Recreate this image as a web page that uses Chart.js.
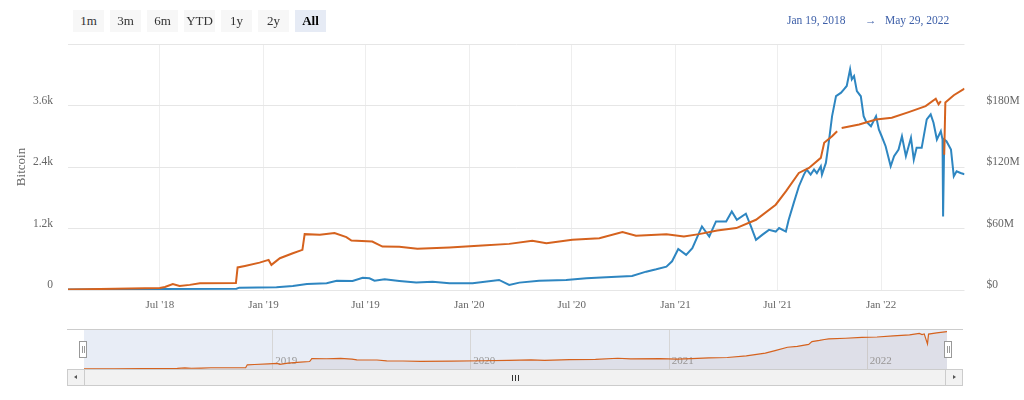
<!DOCTYPE html>
<html>
<head>
<meta charset="utf-8">
<script src="https://cdn.jsdelivr.net/npm/chart.js@4.4.1/dist/chart.umd.min.js"></script>
<style>
body { margin: 0; background: #fff; font-family: "Liberation Serif", serif; }
#wrap { position: relative; width: 1024px; height: 400px; overflow: hidden; }
canvas { position: absolute; left: 0; }
.btn { position: absolute; top: 10px; width: 31px; height: 22px; line-height: 22px; text-align: center; background: #f7f7f7; color: #333; font-size: 13px; }
.btn.on { background: #e6ebf5; font-weight: bold; color: #000; }
.date { position: absolute; top: 14px; font-size: 11.5px; color: #3d5fa8; }
#scroll { position: absolute; left: 67px; top: 369px; width: 894px; height: 15px; background: #f2f2f2; border: 1px solid #cccccc; }
.sbtn { position: absolute; top: 0; width: 16px; height: 15px; background: #f2f2f2; }
.grip { position: absolute; top: 5px; width: 1px; height: 6px; background: #333; }
.handle { position: absolute; top: 341px; width: 6px; height: 15px; background: #fff; border: 1px solid #999; }
.handle i { position: absolute; top: 4px; width: 1px; height: 7px; background: #999; }
</style>
</head>
<body>
<div id="wrap">
  <canvas id="main" width="1024" height="320" style="top:0"></canvas>
  <canvas id="nav" width="1024" height="80" style="top:320px"></canvas>
  <div id="buttons"></div>
  <div class="date" style="left:787px">Jan 19, 2018</div>
  <div class="date" style="left:865px">&rarr;</div>
  <div class="date" style="left:885px">May 29, 2022</div>
  <div id="scroll">
    <div class="sbtn" style="left:0;border-right:1px solid #ccc"><div style="position:absolute;left:6px;top:5px;border-top:2.5px solid transparent;border-bottom:2.5px solid transparent;border-right:3px solid #555"></div></div>
    <div class="sbtn" style="right:0;border-left:1px solid #ccc"><div style="position:absolute;left:7px;top:5px;border-top:2.5px solid transparent;border-bottom:2.5px solid transparent;border-left:3px solid #555"></div></div>
    <div class="grip" style="left:444px"></div>
    <div class="grip" style="left:447px"></div>
    <div class="grip" style="left:450px"></div>
  </div>
  <div class="handle" style="left:79px"><i style="left:1.5px"></i><i style="left:3.5px"></i></div>
  <div class="handle" style="left:944px"><i style="left:1.5px"></i><i style="left:3.5px"></i></div>
</div>
<script>
// range buttons
const rangeButtons = ['1m', '3m', '6m', 'YTD', '1y', '2y', 'All'];

// bitcoin held (left axis)
const btcDates = ['2018-01-19','2018-03-17','2018-05-09','2018-07-01','2018-07-10','2018-07-24','2018-08-05','2018-08-23','2018-09-10','2018-11-13',
  '2018-11-16','2018-11-29','2018-12-25','2019-01-10','2019-01-15','2019-01-30','2019-02-22','2019-03-11','2019-03-15','2019-04-11',
  '2019-05-07','2019-05-28','2019-06-06','2019-07-13','2019-07-31','2019-08-30','2019-10-01','2019-11-27','2020-01-24','2020-03-12',
  '2020-04-22','2020-05-17','2020-07-02','2020-08-19','2020-09-29','2020-10-23','2020-12-16','2021-01-16','2021-02-12','2021-03-16',
  '2021-04-19','2021-05-24','2021-06-28','2021-07-16','2021-08-08','2021-08-26','2021-09-16','2021-09-22','2021-10-06','2021-10-15',
  '2021-10-19','2021-10-23','2021-11-23','2021-12-23','2022-01-20','2022-02-19','2022-03-21','2022-04-08','2022-04-13','2022-04-17',
  '2022-04-20','2022-04-23','2022-04-25','2022-05-10','2022-05-29'];
const btcValues = [10, 20, 30, 40, 60, 115, 80, 100, 130, 135,
  440, 470, 534, 587, 490, 620, 718, 783, 1090, 1077,
  1110, 1032, 965, 946, 848, 842, 803, 829, 868, 900,
  959, 914, 979, 1012, 1129, 1057, 1090, 1044, 1090, 1161,
  1208, 1370, 1664, 1925, 2284, 2382, 2578, 2872, 3001, 3099,
  null, 3160, 3230, 3328, 3361, 3471, 3588, 3733, 3622, 3686,
  null, 2640, 3660, 3800, 3929];

// value in USD millions (right axis)
const usdDates = ['2018-01-19','2018-07-01','2018-11-14','2018-11-19','2019-01-24','2019-02-22','2019-03-19','2019-04-23','2019-05-11','2019-06-08',
  '2019-06-26','2019-07-08','2019-07-17','2019-08-04','2019-08-30','2019-09-29','2019-10-28','2019-11-27','2020-01-07','2020-02-23',
  '2020-03-12','2020-03-30','2020-05-04','2020-06-21','2020-07-27','2020-08-31','2020-10-16','2020-11-10','2020-11-28','2020-12-16',
  '2020-12-26','2021-01-06','2021-01-20','2021-01-31','2021-02-17','2021-03-02','2021-03-14','2021-04-01','2021-04-11','2021-04-20',
  '2021-05-06','2021-05-15','2021-05-24','2021-06-04','2021-06-16','2021-06-28','2021-07-04','2021-07-16','2021-07-21','2021-07-30',
  '2021-08-08','2021-08-17','2021-08-22','2021-08-29','2021-09-04','2021-09-09','2021-09-16','2021-09-18','2021-09-25','2021-09-30',
  '2021-10-06','2021-10-13','2021-10-22','2021-10-27','2021-11-01','2021-11-07','2021-11-10','2021-11-14','2021-11-19','2021-11-26',
  '2021-12-01','2021-12-05','2021-12-14','2021-12-23','2021-12-28','2022-01-02','2022-01-09','2022-01-18','2022-01-24','2022-02-01',
  '2022-02-07','2022-02-14','2022-02-23','2022-02-28','2022-03-05','2022-03-14','2022-03-23','2022-03-30','2022-04-04','2022-04-10',
  '2022-04-17','2022-04-20','2022-04-21','2022-04-23','2022-04-27','2022-05-05','2022-05-10','2022-05-15','2022-05-22','2022-05-29'];
const usdValues = [0.5, 1.0, 1.3, 2.3, 2.6, 3.9, 5.9, 6.5, 9.1, 8.8,
  12, 11.4, 9.1, 10.5, 8.8, 7.2, 8.1, 6.5, 6.5, 9.8,
  4.9, 7.2, 9.1, 9.8, 11.4, 12.4, 13.7, 17.9, 20.2, 22.8,
  28, 40, 34.3, 40.8, 62, 52.2, 66.9, 66.9, 76.6, 68.5,
  74.4, 62, 48.9, 53.8, 58.7, 57, 60.4, 57, 68.5, 85,
  101, 112.6, 117.5, 112.6, 117.5, 114, 120.7, 112.6, 124, 143.6,
  169.6, 189.2, 192.5, 195.8, 199, 215.3, 205.5, 208.8, 194, 189,
  169.6, 164.7, 159.8, 169.6, 156.6, 150, 140.3, 120.7, 130.5, 137,
  150, 130.5, 148.5, 127.2, 138.7, 138.7, 166.4, 171.3, 163.2, 146.8,
  155, 146.8, 71.7, 146.8, 145.2, 137, 110.9, 115.8, 114.2, 113];

const xTickDates = ['2018-07-01','2019-01-01','2019-07-01','2020-01-01','2020-07-01','2021-01-01','2021-07-01','2022-01-01'];
const xTickLabels = ["Jul '18", "Jan '19", "Jul '19", "Jan '20", "Jul '20", "Jan '21", "Jul '21", "Jan '22"];
const leftTicks = [0, 1200, 2400, 3600, 4800];
const leftTickLabels = ['0', '1.2k', '2.4k', '3.6k', ''];
const rightTicks = [0, 60, 120, 180, 240];
const rightTickLabels = ['$0', '$60M', '$120M', '$180M', ''];
const navYears = ['2019-01-01','2020-01-01','2021-01-01','2022-01-01'];
const navYearLabels = ['2019', '2020', '2021', '2022'];

const orange = '#d5621e';
const blue = '#2e86c1';
const serif = '"Liberation Serif", serif';
const DAY = 86400000;

function ts(s)
{
    const p = s.split('-');
    return Date.UTC(+p[0], +p[1] - 1, +p[2]);
}
const xMin = ts('2018-01-19');
const xMax = ts('2022-05-29');

const btcPoints = btcDates.map((d, i) => ({x: ts(d), y: btcValues[i]}));
const usdPoints = usdDates.map((d, i) => ({x: ts(d), y: usdValues[i]}));

rangeButtons.forEach((b, i) => {
    const el = document.createElement('div');
    el.className = 'btn' + (b === 'All' ? ' on' : '');
    el.style.left = (73 + i * 37) + 'px';
    el.textContent = b;
    document.getElementById('buttons').appendChild(el);
});

new Chart(document.getElementById('main'), {
    type: 'line',
    data: {
        datasets: [{
            label: 'Bitcoin',
            data: btcPoints,
            yAxisID: 'yL',
            borderColor: orange,
            borderWidth: 2,
            pointRadius: 0,
            tension: 0,
            spanGaps: false
        }, {
            label: 'USD',
            data: usdPoints,
            yAxisID: 'yR',
            borderColor: blue,
            borderWidth: 2,
            pointRadius: 0,
            tension: 0
        }]
    },
    options: {
        responsive: false,
        animation: false,
        devicePixelRatio: 1,
        layout: { padding: { top: 44, left: 0, right: 0, bottom: 0 } },
        plugins: { legend: { display: false }, tooltip: { enabled: false } },
        scales: {
            x: {
                type: 'linear',
                min: xMin,
                max: xMax,
                afterBuildTicks: ax => { ax.ticks = xTickDates.map(d => ({value: ts(d)})); },
                afterFit: ax => { ax.height = 30; },
                ticks: {
                    callback: (v, i) => xTickLabels[i],
                    color: '#666',
                    font: { family: serif, size: 11 },
                    padding: 9,
                    maxRotation: 0,
                    autoSkip: false
                },
                grid: { color: '#eeeeee', drawTicks: false },
                border: { display: false }
            },
            yL: {
                position: 'left',
                min: 0,
                max: 4800,
                afterBuildTicks: ax => { ax.ticks = leftTicks.map(v => ({value: v})); },
                afterFit: ax => { ax.width = 68; },
                ticks: {
                    callback: (v, i) => leftTickLabels[i],
                    color: '#666',
                    font: { family: serif, size: 11.5 },
                    padding: 15,
                    labelOffset: -5
                },
                title: {
                    display: true,
                    text: 'Bitcoin',
                    color: '#666',
                    font: { family: serif, size: 13 },
                    padding: { top: 14, bottom: 0 }
                },
                grid: { color: '#e6e6e6', drawTicks: false },
                border: { display: false }
            },
            yR: {
                position: 'right',
                min: 0,
                max: 240,
                afterBuildTicks: ax => { ax.ticks = rightTicks.map(v => ({value: v})); },
                afterFit: ax => { ax.width = 59.5; },
                ticks: {
                    callback: (v, i) => rightTickLabels[i],
                    color: '#666',
                    font: { family: serif, size: 11.5 },
                    padding: 14,
                    labelOffset: -5
                },
                grid: { display: false },
                border: { display: false }
            }
        }
    }
});

// navigator decorations: mask, outline, year lines and labels
const navDecor = {
    id: 'navDecor',
    beforeDatasetsDraw(chart) {
        const ctx = chart.ctx;
        const a = chart.chartArea;
        const xs = chart.scales.x;
        ctx.save();
        ctx.fillStyle = '#e8edf6';
        ctx.fillRect(a.left, a.top, a.right - a.left, a.bottom - a.top);
        ctx.strokeStyle = '#d6d6d6';
        ctx.lineWidth = 1;
        navYears.forEach(d => {
            const px = Math.round(xs.getPixelForValue(ts(d))) + 0.5;
            ctx.beginPath();
            ctx.moveTo(px, a.top);
            ctx.lineTo(px, a.bottom);
            ctx.stroke();
        });
        ctx.strokeStyle = '#cccccc';
        ctx.beginPath();
        ctx.moveTo(67, a.top + 0.5);
        ctx.lineTo(963, a.top + 0.5);
        ctx.stroke();
        ctx.fillStyle = '#999';
        ctx.font = '11px ' + serif;
        ctx.textBaseline = 'middle';
        navYears.forEach((d, i) => {
            ctx.fillText(navYearLabels[i], xs.getPixelForValue(ts(d)) + 3, a.bottom - 7.5);
        });
        ctx.restore();
    }
};

// in the navigator only the long data gap stays open, short ones are bridged
function longGap(c)
{
    if (c.p1DataIndex - c.p0DataIndex < 2) return false;
    return btcPoints[c.p1DataIndex].x - btcPoints[c.p0DataIndex].x > 7 * DAY;
}

new Chart(document.getElementById('nav'), {
    type: 'line',
    data: {
        datasets: [{
            data: btcPoints,
            borderColor: orange,
            borderWidth: 1.2,
            backgroundColor: 'rgba(140,110,110,0.10)',
            fill: 'origin',
            pointRadius: 0,
            tension: 0,
            spanGaps: true,
            segment: {
                borderColor: c => longGap(c) ? 'rgba(0,0,0,0)' : undefined,
                backgroundColor: c => longGap(c) ? 'rgba(255,255,255,0.5)' : undefined
            }
        }]
    },
    options: {
        responsive: false,
        animation: false,
        devicePixelRatio: 1,
        layout: { padding: { left: 84, right: 77, top: 9, bottom: 31 } },
        plugins: { legend: { display: false }, tooltip: { enabled: false } },
        scales: {
            x: { type: 'linear', min: xMin, max: xMax, display: false },
            y: { min: 0, max: 4200, display: false }
        }
    },
    plugins: [navDecor]
});
</script>
</body>
</html>
